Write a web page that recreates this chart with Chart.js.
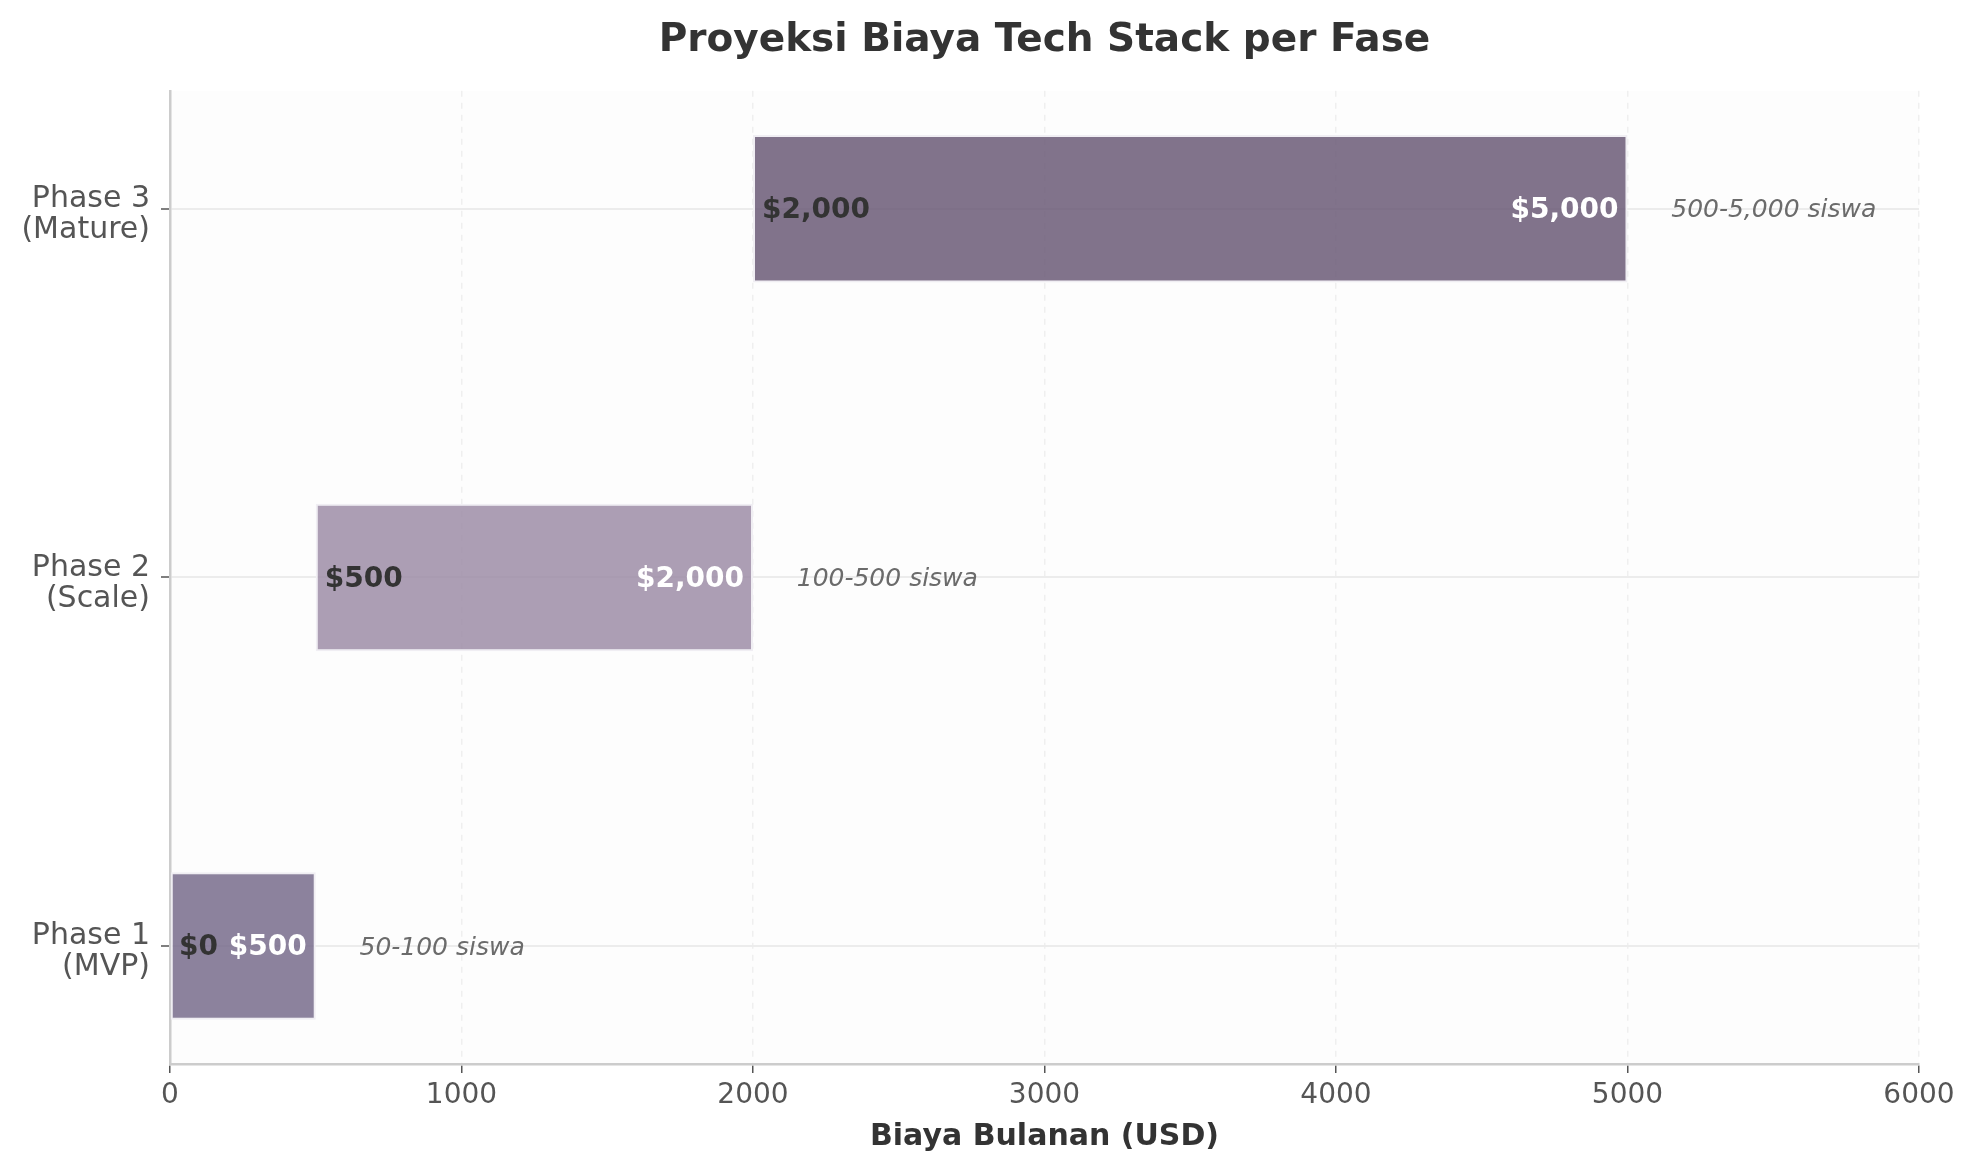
<!DOCTYPE html>
<html>
<head>
<meta charset="UTF-8">
<title>Proyeksi Biaya Tech Stack per Fase</title>
<script src="https://cdn.jsdelivr.net/npm/chart.js"></script>
<style>
  body { margin: 0; background: #ffffff; }
  #wrap { width: 1974px; height: 1172px; }
</style>
</head>
<body>
<div id="wrap"><canvas id="costChart" width="1974" height="1172"></canvas></div>
<script>
// Phases from bottom to top
const phases = [["Phase 1", "(MVP)"], ["Phase 2", "(Scale)"], ["Phase 3", "(Mature)"]];
const minCost = [0, 500, 2000];
const maxCost = [500, 2000, 5000];
const studentRanges = ["50-100 siswa", "100-500 siswa", "500-5,000 siswa"];
const xTicks = [0, 1000, 2000, 3000, 4000, 5000, 6000];

// styling
const barColors = ["rgba(120,108,140,0.85)", "rgba(157,141,167,0.85)", "rgba(107,91,119,0.85)"];
const noteOffset = 150; // note text starts a bit after the bar end (in USD)
const FONT = '"DejaVu Sans", sans-serif';

const money = v => "$" + v.toLocaleString("en-US");

// light background behind the plot area
const plotBackground = {
    id: "plotBackground",
    beforeDraw(chart) {
        const { ctx, chartArea: a } = chart;
        ctx.save();
        ctx.fillStyle = "#fdfdfd";
        ctx.fillRect(a.left, a.top, a.right - a.left, a.bottom - a.top);
        ctx.restore();
    }
};

// start / end values inside the bars and the student range after them
const barLabels = {
    id: "barLabels",
    afterDatasetsDraw(chart) {
        const ctx = chart.ctx;
        const xs = chart.scales.x;
        const meta = chart.getDatasetMeta(0);
        ctx.save();
        ctx.textBaseline = "middle";
        meta.data.forEach((bar, i) => {
            const left = xs.getPixelForValue(minCost[i]);
            const right = xs.getPixelForValue(maxCost[i]);
            const y = bar.y + 2;

            ctx.font = "bold 28px " + FONT;
            ctx.textAlign = "left";
            ctx.fillStyle = "#333333";
            ctx.fillText(money(minCost[i]), left + 9, y);

            ctx.textAlign = "right";
            ctx.fillStyle = "#ffffff";
            ctx.fillText(money(maxCost[i]), right - 9, y);

            ctx.font = "italic 25px " + FONT;
            ctx.textAlign = "left";
            ctx.fillStyle = "#6b6b6b";
            ctx.fillText(studentRanges[i], xs.getPixelForValue(maxCost[i] + noteOffset), y);
        });
        ctx.restore();
    }
};

const ctx = document.getElementById("costChart").getContext("2d");
new Chart(ctx, {
    type: "bar",
    data: {
        datasets: [{
            data: phases.map((p, i) => ({ x: [minCost[i], maxCost[i]], y: i })),
            backgroundColor: barColors,
            borderColor: "#f0eef3",
            borderWidth: 2,
            borderSkipped: false,
            categoryPercentage: 1,
            barPercentage: 0.4
        }]
    },
    options: {
        indexAxis: "y",
        responsive: false,
        animation: false,
        devicePixelRatio: 1,
        layout: { padding: { left: 0, right: 55, top: 0, bottom: 0 } },
        scales: {
            x: {
                type: "linear",
                min: 0,
                max: 6000,
                afterBuildTicks: s => { s.ticks = xTicks.map(v => ({ value: v })); },
                afterFit: s => { s.height = 108; },
                ticks: {
                    callback: v => String(v),
                    font: { family: FONT, size: 28 },
                    color: "#555555",
                    padding: 6
                },
                grid: {
                    color: "#efefef",
                    lineWidth: 1.5,
                    tickColor: "#555555",
                    tickLength: 9,
                    tickWidth: 1.5
                },
                border: { color: "#cccccc", width: 2.5, dash: [6, 6] },
                title: {
                    display: true,
                    text: "Biaya Bulanan (USD)",
                    color: "#333333",
                    font: { family: FONT, size: 30, weight: "bold" },
                    padding: { top: 0, bottom: 17 }
                }
            },
            y: {
                type: "linear",
                min: -0.32,
                max: 2.32,
                offset: false,
                afterBuildTicks: s => { s.ticks = phases.map((p, i) => ({ value: i })); },
                afterFit: s => { s.width = 170; },
                ticks: {
                    callback: v => phases[v],
                    font: { family: FONT, size: 30, lineHeight: 1.04 },
                    color: "#555555",
                    padding: 11,
                    labelOffset: 6
                },
                grid: {
                    offset: false,
                    color: "#ececec",
                    lineWidth: 2,
                    tickColor: "#555555",
                    tickLength: 9,
                    tickWidth: 1.5
                },
                border: { color: "#cccccc", width: 2.5 }
            }
        },
        plugins: {
            legend: { display: false },
            tooltip: { enabled: false },
            title: {
                display: true,
                fullSize: false,
                text: "Proyeksi Biaya Tech Stack per Fase",
                color: "#333333",
                font: { family: FONT, size: 39, weight: "bold" },
                padding: { top: 17, bottom: 27 }
            }
        }
    },
    plugins: [plotBackground, barLabels]
});
</script>
</body>
</html>
